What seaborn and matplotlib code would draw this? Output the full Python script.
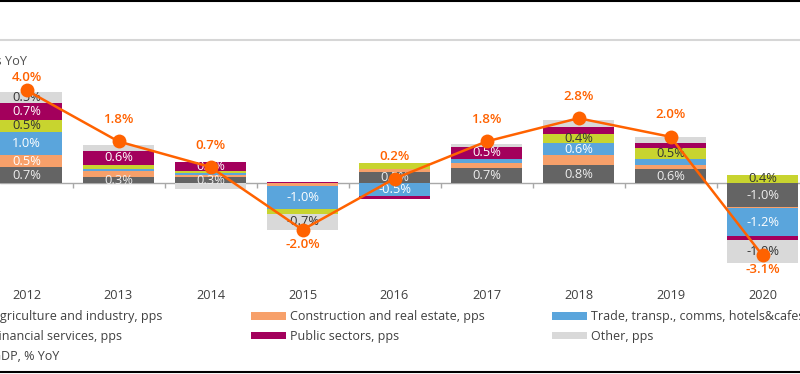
import matplotlib
matplotlib.use("Agg")
import numpy as np
import pandas as pd
import matplotlib.pyplot as plt
from matplotlib.lines import Line2D
from matplotlib.patches import Patch
import seaborn as sns

# ---------------- data ----------------
years = ["2012", "2013", "2014", "2015", "2016", "2017", "2018", "2019", "2020"]
agri = [0.70, 0.28, 0.27, 0.00, 0.47, 0.66, 0.77, 0.62, -1.04]
constr = [0.50, 0.25, 0.10, -0.10, 0.14, 0.20, 0.43, 0.15, -0.03]
trade = [1.00, 0.07, 0.07, -1.02, -0.54, 0.20, 0.55, 0.26, -1.20]
fin = [0.54, 0.20, 0.10, -0.20, 0.28, 0.00, 0.37, 0.50, 0.37]
public = [0.70, 0.60, 0.38, 0.05, -0.14, 0.50, 0.29, 0.20, -0.15]
other = [0.50, 0.25, -0.25, -0.68, 0.00, 0.14, 0.33, 0.25, -1.00]
gdp = [4.0, 1.8, 0.7, -2.0, 0.2, 1.8, 2.8, 2.0, -3.1]

series_names = [
    "Agriculture and industry, pps",
    "Construction and real estate, pps",
    "Trade, transp., comms, hotels&cafes, pps",
    "Financial services, pps",
    "Public sectors, pps",
    "Other, pps",
]
gdp_name = "GDP, % YoY"
title_text = "GDP growth contributions, pps YoY"

# which segment values are written on the bars (1 = shown)
show_agri = [1, 1, 1, 0, 1, 1, 1, 1, 1]
show_constr = [1, 0, 0, 0, 0, 0, 0, 0, 0]
show_trade = [1, 0, 0, 1, 1, 0, 1, 0, 1]
show_fin = [1, 0, 0, 0, 0, 0, 1, 1, 1]
show_public = [1, 1, 1, 0, 0, 1, 0, 0, 0]
show_other = [1, 0, 0, 1, 0, 0, 0, 0, 1]

# ---------------- style ----------------
colors = ["#646464", "#F7A06A", "#5AA5DC", "#C8D42F", "#A3005C", "#D9D9D9"]
text_colors = ["#EEEEEE", "#FFFFFF", "#FFFFFF", "#333333", "#FFFFFF", "#333333"]
gdp_color = "#FF6200"

sns.set_theme(style="white")
plt.rcParams["font.family"] = ["Open Sans", "DejaVu Sans"]
plt.rcParams["font.size"] = 9

W, H = 800, 374
fig = plt.figure(figsize=(W / 100, H / 100), dpi=100)
fig.patch.set_facecolor("white")

px_per_unit_x = 92.0
x0_px = 26.5
zero_px = 183.3
px_per_pct = 23.25
top_px, bot_px = 40, 283

ax = fig.add_axes([0, 1 - bot_px / H, 1, (bot_px - top_px) / H])
ax.set_xlim(-x0_px / px_per_unit_x, (W - x0_px) / px_per_unit_x)
ax.set_ylim(-(bot_px - zero_px) / px_per_pct, (zero_px - top_px) / px_per_pct)
for s in ax.spines.values():
    s.set_visible(False)
ax.set_yticks([])

df = pd.DataFrame(
    {
        series_names[0]: agri,
        series_names[1]: constr,
        series_names[2]: trade,
        series_names[3]: fin,
        series_names[4]: public,
        series_names[5]: other,
    },
    index=years,
)
shows = [show_agri, show_constr, show_trade, show_fin, show_public, show_other]

x = np.arange(len(years))
bar_w = 71 / px_per_unit_x

ax.axhline(0, color="#A8A8A8", lw=1.0, zorder=1)
ax.vlines(x[:-1] + 0.5, -0.2, 0, color="#A8A8A8", lw=1.0, zorder=1)

pos_base = np.zeros(len(years))
neg_base = np.zeros(len(years))
for k, name in enumerate(series_names):
    vals = df[name].to_numpy()
    bottoms = np.where(vals >= 0, pos_base, neg_base)
    ax.bar(x, vals, width=bar_w, bottom=bottoms, color=colors[k], linewidth=0, zorder=2)
    for i, v in enumerate(vals):
        if shows[k][i]:
            ax.text(x[i], bottoms[i] + v / 2, f"{v:.1f}%", ha="center", va="center",
                    color=text_colors[k], fontsize=9.3, zorder=3)
    pos_base = pos_base + np.where(vals >= 0, vals, 0)
    neg_base = neg_base + np.where(vals < 0, vals, 0)

line_df = pd.DataFrame({"x": x, "gdp": gdp})
sns.lineplot(data=line_df, x="x", y="gdp", ax=ax, color=gdp_color, lw=1.8,
             marker="o", markersize=10, markeredgewidth=0, zorder=5)
for i, v in enumerate(gdp):
    if v >= 0:
        off = 9.5 if i == 0 else 15.8
    else:
        off = -10.5
    ax.annotate(f"{v:.1f}%", (x[i], v), xytext=(0, off), textcoords="offset points",
                ha="center", va="center", color=gdp_color, fontsize=9.5,
                fontweight="semibold", zorder=6)

ax.set_xticks(x)
ax.set_xticklabels(years, color="#404040", fontsize=9.2)
ax.tick_params(axis="x", length=0, pad=4.5)
ax.set_xlabel("")
ax.set_ylabel("")

# title (cut on the left, as in the reference)
fig.text(27 / W, 1 - 62 / H, title_text, ha="right", va="center",
         color="#505050", fontsize=9.2)

# frame lines
fig.add_artist(Line2D([0, 1], [1 - 0.8 / H, 1 - 0.8 / H], color="black", lw=1.5))
fig.add_artist(Line2D([0, 1], [1 - 40 / H, 1 - 40 / H], color="#D6D6D6", lw=1.5))
fig.add_artist(Line2D([0, 1], [1 - 372 / H, 1 - 372 / H], color="black", lw=1.5))

# legend: three columns placed individually
handles = [Patch(facecolor=c, edgecolor="none") for c in colors]
gdp_handle = Line2D([], [], color=gdp_color, lw=1.8, marker="o", markersize=7)
cols = [
    ([handles[0], handles[3], gdp_handle], [series_names[0], series_names[3], gdp_name], -47.5),
    ([handles[1], handles[4]], [series_names[1], series_names[4]], 251),
    ([handles[2], handles[5]], [series_names[2], series_names[5]], 552),
]
for hs, ls, xp in cols:
    fig.legend(hs, ls, loc="upper left", bbox_to_anchor=(xp / W, 1 - 310 / H),
               frameon=False, borderpad=0, borderaxespad=0, handlelength=2.8,
               handleheight=0.6, handletextpad=0.35, labelspacing=0.55,
               fontsize=9, labelcolor="#404040")

fig.savefig("out.png", dpi=100)
